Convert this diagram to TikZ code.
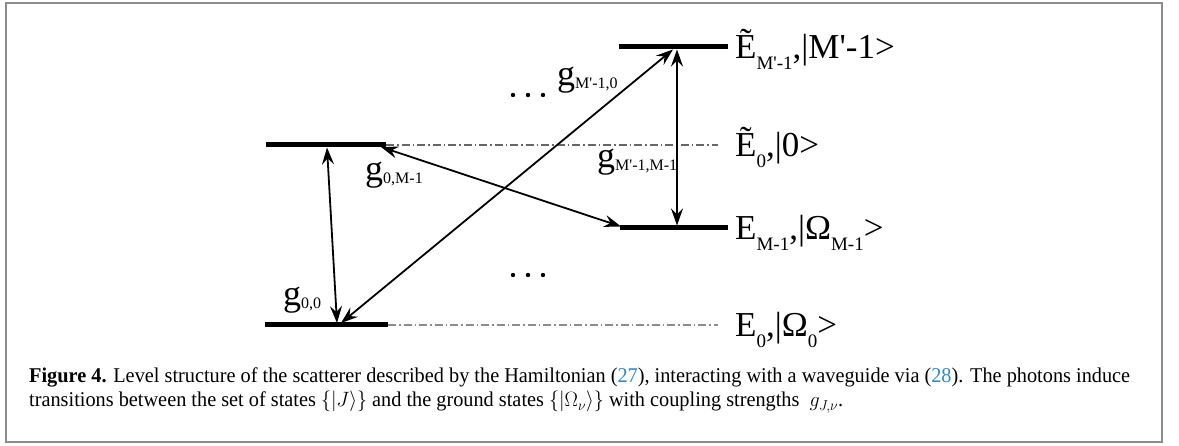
\documentclass[tikz,border=0pt]{standalone}
\usepackage{fontspec}
\setmainfont{Liberation Serif}
\usetikzlibrary{arrows.meta}
\definecolor{framegray}{RGB}{140,140,140}
\definecolor{refblue}{RGB}{42,140,200}
\newcommand\Esub[1]{\raisebox{-11pt}{\fontsize{19}{19}\selectfont #1}}
\newcommand\gsub[1]{\raisebox{-3pt}{\fontsize{16}{16}\selectfont #1}}
\newsavebox\capone
\newsavebox\captwo
\newlength\capw
\begin{document}
\sbox\capone{\fontsize{21}{25}\selectfont\textbf{Figure 4.} Level structure of the scatterer described by the Hamiltonian (\textcolor{refblue}{27}), interacting with a waveguide via (\textcolor{refblue}{28}). The photons induce}%
\sbox\captwo{\fontsize{21}{25}\selectfont transitions between the set of states $\{|J\rangle\}$ and the ground states $\{|\Omega_\nu\rangle\}$ with coupling strengths\ \ $g_{J,\nu}$.}%
\setlength\capw{\wd\capone}%
\pgfmathsetmacro\capscale{1101/\capw}%
\begin{tikzpicture}[x=1pt,y=-1pt,
  levelline/.style={line width=5pt},
  ddot/.style={line width=1.2pt, black!60, dash pattern=on 8pt off 3pt on 1.5pt off 3pt},
  coup/.style={line width=1.8pt, {Stealth[length=17pt,width=12pt,inset=6pt]}-{Stealth[length=17pt,width=12pt,inset=6pt]}},
  lbl/.style={inner sep=0pt, anchor=base west, font=\fontsize{35}{35}\selectfont},
  glbl/.style={inner sep=0pt, anchor=base west, font=\fontsize{36}{36}\selectfont},
  captext/.style={inner sep=0pt, anchor=base west}]
\useasboundingbox (0,0) rectangle (1179,446);
\fill[white] (0,0) rectangle (1179,446);
\draw[framegray, line width=2pt] (6,3.5) rectangle (1161.5,442);

% levels
\coordinate (T1) at (619,47);  \coordinate (T2) at (728,47);
\coordinate (U1) at (266,145); \coordinate (U2) at (386,145); \coordinate (U3) at (718,145);
\coordinate (M1) at (620,228); \coordinate (M2) at (728,228);
\coordinate (B1) at (265,325); \coordinate (B2) at (388,325); \coordinate (B3) at (718,325);

\draw[ddot] (U2) -- (U3);
\draw[ddot, black!45] (B2) -- (B3);
\draw[levelline] (T1) -- (T2);
\draw[levelline] (U1) -- (U2);
\draw[levelline] (M1) -- (M2);
\draw[levelline] (B1) -- (B2);

% arrow end points
\coordinate (g00a) at (327,147.5); \coordinate (g00b) at (337,323);
\coordinate (gL0a) at (341,323);   \coordinate (gL0b) at (673,49.5);
\coordinate (g0Ma) at (381,147);   \coordinate (g0Mb) at (621,226.5);
\coordinate (gRa) at (677,49.5);   \coordinate (gRb) at (677,225.5);

\draw[coup] (g00a) -- (g00b);
\draw[coup] (gL0a) -- (gL0b);
\draw[coup] (g0Ma) -- (g0Mb);
\draw[coup] (gRa) -- (gRb);

% dots
\foreach \x in {513,528,543} {
  \fill (\x,95) circle (2.2);
  \fill (\x,275) circle (2.2);
}

% coupling labels
\node[glbl] (lgM0) at (557,86) {g\gsub{M\textquotesingle-1,0}};
\node[glbl] (lg0M) at (365,181) {g\gsub{0,M-1}};
\node[glbl] (lgMM) at (597,168) {g\gsub{M\textquotesingle-1,M-1}};
\node[glbl] (lg00) at (283,306) {g\gsub{0,0}};

% level labels
\node[lbl] (lT) at (735,58.5)  {Ẽ\Esub{M\textquotesingle-1},|M\textquotesingle-1>};
\node[lbl] (lU) at (735,156.5) {Ẽ\Esub{0},|0>};
\node[lbl] (lM) at (735,239.5) {E\Esub{M-1},|Ω\Esub{M-1}>};
\node[lbl] (lB) at (735,336.5) {E\Esub{0},|Ω\Esub{0}>};

% caption
\node[captext] (cap1) at (29,383) {\scalebox{\capscale}[1]{\usebox\capone}};
\node[captext] (cap2) at (29,407) {\scalebox{\capscale}[1]{\usebox\captwo}};
\end{tikzpicture}
\end{document}
